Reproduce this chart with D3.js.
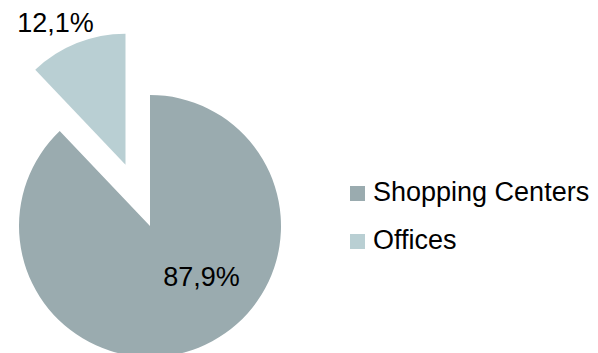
<!DOCTYPE html>
<html>
<head>
<meta charset="utf-8">
<script src="https://cdn.jsdelivr.net/npm/d3@7"></script>
<style>
  html, body { margin: 0; padding: 0; background: #fff; }
  text { font-family: "Liberation Sans", Arial, sans-serif; fill: #000; }
</style>
</head>
<body>
<svg id="chart" width="598" height="353"></svg>
<script>
"use strict";

// chart data
var categories = ["Shopping Centers", "Offices"];
var values = [87.9, 12.1];
var labels = ["87,9%", "12,1%"];
var colors = ["#9aabaf", "#b9cfd3"];

var svg = d3.select("#chart");
var cx = 150, cy = 226, radius = 131;
var explode = [0, 66];           // offset of each slice along its bisector
var fontSize = 27;

// clockwise from 12 o'clock, Offices ends up top-left
var pie = d3.pie()
  .sort(null)
  .value(function(d) { return d; });

var arcs = pie(values);
var arc = d3.arc().innerRadius(0).outerRadius(radius);

var g = svg.append("g").attr("transform", "translate(" + cx + "," + cy + ")");

var slices = g.selectAll(".slice")
  .data(arcs)
  .enter().append("g")
    .attr("class", "slice")
    .attr("transform", function(d, i) {
      var mid = (d.startAngle + d.endAngle) / 2;
      var dx = Math.sin(mid) * explode[i];
      var dy = -Math.cos(mid) * explode[i];
      return "translate(" + dx + "," + dy + ")";
    });

slices.append("path")
  .attr("d", arc)
  .attr("fill", function(d, i) { return colors[i]; });

// value labels, placed relative to the main pie center
var labelPos = [[51.5, 60], [-94.5, -194]];

g.selectAll(".value")
  .data(arcs)
  .enter().append("text")
    .attr("class", "value")
    .attr("text-anchor", "middle")
    .style("font-size", fontSize + "px")
    .attr("x", function(d, i) { return labelPos[i][0]; })
    .attr("y", function(d, i) { return labelPos[i][1]; })
    .text(function(d, i) { return labels[i]; });

// legend
var legend = svg.append("g")
  .attr("transform", "translate(350,186)");

var rows = legend.selectAll(".row")
  .data(categories)
  .enter().append("g")
    .attr("class", "row")
    .attr("transform", function(d, i) { return "translate(0," + (i * 48) + ")"; });

rows.append("rect")
  .attr("width", 15)
  .attr("height", 15)
  .attr("fill", function(d, i) { return colors[i]; });

rows.append("text")
  .attr("x", 23)
  .attr("y", 15)
  .style("font-size", fontSize + "px")
  .text(function(d) { return d; });
</script>
</body>
</html>
